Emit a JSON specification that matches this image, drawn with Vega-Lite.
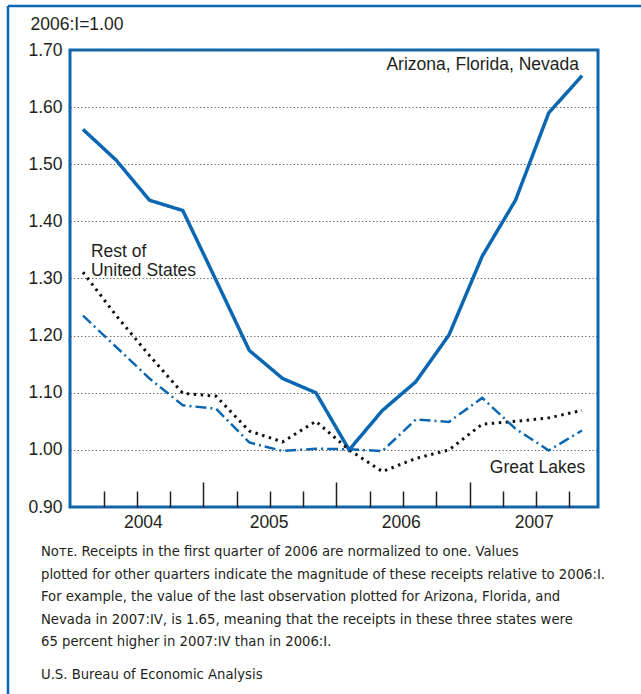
{
  "$schema": "https://vega.github.io/schema/vega-lite/v6.json",
  "width": 528,
  "height": 457,
  "autosize": "none",
  "padding": {"left": 70, "top": 50, "right": 43, "bottom": 187},
  "background": "white",
  "config": {
    "view": {"stroke": "#0b67b2", "strokeWidth": 3},
    "font": "Liberation Sans"
  },
  "datasets": {
    "series": [
      {"s": "Arizona, Florida, Nevada", "t": 0, "v": 1.561},
      {"s": "Arizona, Florida, Nevada", "t": 1, "v": 1.507},
      {"s": "Arizona, Florida, Nevada", "t": 2, "v": 1.437},
      {"s": "Arizona, Florida, Nevada", "t": 3, "v": 1.419},
      {"s": "Arizona, Florida, Nevada", "t": 4, "v": 1.297},
      {"s": "Arizona, Florida, Nevada", "t": 5, "v": 1.174},
      {"s": "Arizona, Florida, Nevada", "t": 6, "v": 1.125},
      {"s": "Arizona, Florida, Nevada", "t": 7, "v": 1.1},
      {"s": "Arizona, Florida, Nevada", "t": 8, "v": 1.0},
      {"s": "Arizona, Florida, Nevada", "t": 9, "v": 1.069},
      {"s": "Arizona, Florida, Nevada", "t": 10, "v": 1.119},
      {"s": "Arizona, Florida, Nevada", "t": 11, "v": 1.201},
      {"s": "Arizona, Florida, Nevada", "t": 12, "v": 1.339},
      {"s": "Arizona, Florida, Nevada", "t": 13, "v": 1.437},
      {"s": "Arizona, Florida, Nevada", "t": 14, "v": 1.59},
      {"s": "Arizona, Florida, Nevada", "t": 15, "v": 1.655},
      {"s": "Rest of United States", "t": 0, "v": 1.311},
      {"s": "Rest of United States", "t": 1, "v": 1.235},
      {"s": "Rest of United States", "t": 2, "v": 1.165},
      {"s": "Rest of United States", "t": 3, "v": 1.099},
      {"s": "Rest of United States", "t": 4, "v": 1.094},
      {"s": "Rest of United States", "t": 5, "v": 1.033},
      {"s": "Rest of United States", "t": 6, "v": 1.014},
      {"s": "Rest of United States", "t": 7, "v": 1.05},
      {"s": "Rest of United States", "t": 8, "v": 1.0},
      {"s": "Rest of United States", "t": 9, "v": 0.962},
      {"s": "Rest of United States", "t": 10, "v": 0.985},
      {"s": "Rest of United States", "t": 11, "v": 1.0},
      {"s": "Rest of United States", "t": 12, "v": 1.045},
      {"s": "Rest of United States", "t": 13, "v": 1.05},
      {"s": "Rest of United States", "t": 14, "v": 1.056},
      {"s": "Rest of United States", "t": 15, "v": 1.069},
      {"s": "Great Lakes", "t": 0, "v": 1.235},
      {"s": "Great Lakes", "t": 1, "v": 1.18},
      {"s": "Great Lakes", "t": 2, "v": 1.125},
      {"s": "Great Lakes", "t": 3, "v": 1.078},
      {"s": "Great Lakes", "t": 4, "v": 1.072},
      {"s": "Great Lakes", "t": 5, "v": 1.013},
      {"s": "Great Lakes", "t": 6, "v": 0.998},
      {"s": "Great Lakes", "t": 7, "v": 1.002},
      {"s": "Great Lakes", "t": 8, "v": 1.001},
      {"s": "Great Lakes", "t": 9, "v": 0.998},
      {"s": "Great Lakes", "t": 10, "v": 1.053},
      {"s": "Great Lakes", "t": 11, "v": 1.049},
      {"s": "Great Lakes", "t": 12, "v": 1.091},
      {"s": "Great Lakes", "t": 13, "v": 1.037},
      {"s": "Great Lakes", "t": 14, "v": 0.999},
      {"s": "Great Lakes", "t": 15, "v": 1.034}
    ],
    "labels": [
      {"label": "Arizona, Florida, Nevada", "t": 14.91, "v": 1.665},
      {"label": "Rest of\nUnited States", "t": 0.24, "v": 1.338},
      {"label": "Great Lakes", "t": 12.23, "v": 0.9595}
    ]
  },
  "resolve": {"axis": {"x": "independent", "y": "independent"}},
  "layer": [
    {
      "data": {"name": "series"},
      "mark": {"type": "line", "strokeJoin": "miter", "clip": false},
      "encoding": {
        "x": {
          "field": "t",
          "type": "quantitative",
          "scale": {"domain": [-0.39, 15.48], "nice": false, "zero": false},
          "axis": {
            "orient": "bottom",
            "title": null,
            "domain": false,
            "grid": false,
            "values": [0.62, 1.62, 2.62, 4.62, 5.62, 6.62, 8.62, 9.62, 10.62, 12.62, 13.62, 14.62, 1.8, 5.58, 9.55, 13.55],
            "labelExpr": "indexof([1.8,5.58,9.55,13.55], datum.value) >= 0 ? (datum.value < 4 ? '2004' : datum.value < 8 ? '2005' : datum.value < 12 ? '2006' : '2007') : ''",
            "labelOverlap": false,
            "labelFlush": false,
            "labelBound": false,
            "labelFontSize": 17.5,
            "labelColor": "#231f20",
            "labelPadding": 22,
            "tickColor": "#231f20",
            "tickWidth": 1.5,
            "tickSize": -16,
            "tickOpacity": {"condition": {"test": "indexof([1.8,5.58,9.55,13.55], datum.value) >= 0", "value": 0}, "value": 1}
          }
        },
        "y": {
          "field": "v",
          "type": "quantitative",
          "scale": {"domain": [0.9, 1.7], "nice": false, "zero": false},
          "axis": {
            "orient": "left",
            "title": "2006:I=1.00",
            "titleAngle": 0,
            "titleAlign": "left",
            "titleBaseline": "alphabetic",
            "titleX": -40,
            "titleY": -21,
            "titleFontSize": 17.5,
            "titleFontWeight": "normal",
            "titleColor": "#231f20",
            "values": [0.9, 1.0, 1.1, 1.2, 1.3, 1.4, 1.5, 1.6, 1.7],
            "format": ".2f",
            "domain": false,
            "ticks": false,
            "grid": true,
            "gridDash": [1.2, 2.4],
            "gridColor": "#555555",
            "gridWidth": 1,
            "labelFontSize": 17.5,
            "labelColor": "#231f20",
            "labelPadding": 8
          }
        },
        "color": {
          "field": "s",
          "type": "nominal",
          "legend": null,
          "scale": {"domain": ["Arizona, Florida, Nevada", "Rest of United States", "Great Lakes"], "range": ["#0b67b2", "#111111", "#0b67b2"]}
        },
        "strokeDash": {
          "field": "s",
          "type": "nominal",
          "legend": null,
          "scale": {"domain": ["Arizona, Florida, Nevada", "Rest of United States", "Great Lakes"], "range": [[1, 0], [2.5, 4.5], [11, 4, 2, 4]]}
        },
        "strokeWidth": {
          "field": "s",
          "type": "nominal",
          "legend": null,
          "scale": {"domain": ["Arizona, Florida, Nevada", "Rest of United States", "Great Lakes"], "range": [3.5, 2.5, 2]}
        },
        "order": {"field": "t"}
      }
    },
    {
      "data": {"name": "labels"},
      "transform": [{"filter": "datum.label === 'Arizona, Florida, Nevada'"}],
      "mark": {"type": "text", "align": "right", "baseline": "alphabetic", "fontSize": 17.5, "color": "#231f20"},
      "encoding": {
        "x": {
          "field": "t",
          "type": "quantitative",
          "scale": {"domain": [-0.39, 15.48], "nice": false, "zero": false},
          "axis": {
            "orient": "bottom",
            "title": null,
            "domain": false,
            "grid": false,
            "labels": false,
            "values": [3.62, 7.62, 11.62],
            "tickColor": "#231f20",
            "tickWidth": 1.5,
            "tickSize": -25
          }
        },
        "y": {"field": "v", "type": "quantitative", "axis": null, "scale": {"domain": [0.9, 1.7], "nice": false, "zero": false}},
        "text": {"field": "label"}
      }
    },
    {
      "data": {"name": "labels"},
      "transform": [{"filter": "datum.label !== 'Arizona, Florida, Nevada'"}],
      "mark": {"type": "text", "align": "left", "baseline": "alphabetic", "fontSize": 17.5, "lineHeight": 19.5, "lineBreak": "\n", "color": "#231f20"},
      "encoding": {
        "x": {"field": "t", "type": "quantitative", "axis": null, "scale": {"domain": [-0.39, 15.48], "nice": false, "zero": false}},
        "y": {"field": "v", "type": "quantitative", "axis": null, "scale": {"domain": [0.9, 1.7], "nice": false, "zero": false}},
        "text": {"field": "label"}
      }
    },
    {
      "data": {"values": [{"note": "Nᴏᴛᴇ. Receipts in the first quarter of 2006 are normalized to one.  Values\nplotted for other quarters indicate the magnitude of these receipts relative to 2006:I.\nFor example, the value of the last observation plotted for Arizona, Florida, and\nNevada in 2007:IV, is 1.65, meaning that the receipts in these three states were\n65 percent higher in 2007:IV than in 2006:I."}]},
      "mark": {"type": "text", "align": "left", "baseline": "alphabetic", "font": "'DejaVu Sans Condensed', 'Roboto Condensed', 'Liberation Sans'", "fontSize": 14.7, "lineHeight": 22.5, "lineBreak": "\n", "color": "#231f20", "clip": false},
      "encoding": {
        "x": {"datum": -1.262, "type": "quantitative", "axis": null, "scale": {"domain": [-0.39, 15.48], "nice": false, "zero": false}},
        "y": {"datum": 0.8142, "type": "quantitative", "axis": null, "scale": {"domain": [0.9, 1.7], "nice": false, "zero": false}},
        "text": {"field": "note"}
      }
    },
    {
      "data": {"values": [{"note": "U.S. Bureau of Economic Analysis"}]},
      "mark": {"type": "text", "align": "left", "baseline": "alphabetic", "font": "'DejaVu Sans Condensed', 'Roboto Condensed', 'Liberation Sans'", "fontSize": 14.7, "color": "#231f20", "clip": false},
      "encoding": {
        "x": {"datum": -1.262, "type": "quantitative", "axis": null, "scale": {"domain": [-0.39, 15.48], "nice": false, "zero": false}},
        "y": {"datum": 0.5989, "type": "quantitative", "axis": null, "scale": {"domain": [0.9, 1.7], "nice": false, "zero": false}},
        "text": {"field": "note"}
      }
    },
    {
      "data": {"values": [{}]},
      "mark": {"type": "rule", "color": "#0b67b2", "strokeWidth": 2.5, "clip": false},
      "encoding": {
        "x": {"datum": -2.254, "type": "quantitative", "axis": null, "scale": {"domain": [-0.39, 15.48], "nice": false, "zero": false}},
        "y": {"datum": 1.777, "type": "quantitative", "axis": null, "scale": {"domain": [0.9, 1.7], "nice": false, "zero": false}},
        "y2": {"datum": 0.562}
      }
    },
    {
      "data": {"values": [{}]},
      "mark": {"type": "rule", "color": "#0b67b2", "strokeWidth": 2.5, "clip": false},
      "encoding": {
        "x": {"datum": -2.254, "type": "quantitative", "axis": null, "scale": {"domain": [-0.39, 15.48], "nice": false, "zero": false}},
        "x2": {"datum": 16.89},
        "y": {"datum": 1.777, "type": "quantitative", "axis": null, "scale": {"domain": [0.9, 1.7], "nice": false, "zero": false}}
      }
    }
  ]
}
